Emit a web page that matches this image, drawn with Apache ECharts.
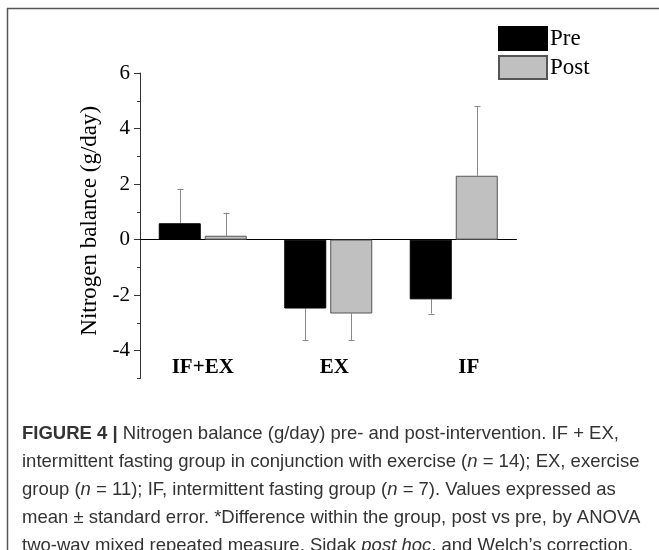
<!DOCTYPE html>
<html>
<head>
<meta charset="utf-8">
<script src="https://cdn.jsdelivr.net/npm/echarts@6/dist/echarts.min.js"></script>
<style>html,body{margin:0;padding:0;background:#fff;}#c{width:659px;height:550px;}</style>
</head>
<body>
<div id="c"></div>
<script>
// ---- data ----
const categories = ['IF+EX', 'EX', 'IF'];
const preValues = [0.59, -2.48, -2.15];
const postValues = [0.14, -2.66, 2.30];
const preErrors = [1.24, 1.13, 0.51];
const postErrors = [0.83, 0.97, 2.50];
const majorTickValues = [-4, -2, 0, 2, 4, 6];
const minorTickValues = [-5, -3, -1, 1, 3, 5];
const yMin = -5, yMax = 6;
const captionLines = [
  '{b|FIGURE 4 |} Nitrogen balance (g/day) pre- and post-intervention. IF + EX,',
  'intermittent fasting group in conjunction with exercise ({i|n} = 14); EX, exercise',
  'group ({i|n} = 11); IF, intermittent fasting group ({i|n} = 7). Values expressed as',
  'mean \u00b1 standard error. *Difference within the group, post vs pre, by ANOVA',
  'two-way mixed repeated measure, Sidak {i|post hoc}, and Welch\u2019s correction.'
];

// ---- style ----
const BAR_W = 42, BAR_GAP = 4;
const serif = 'Liberation Serif';
const labelShift = { 'IF': 15, 'EX': 6 };
const CAP_FS = 18.5;

const errData = [];
categories.forEach((c, i) => {
  errData.push([i, preValues[i], preErrors[i], -1]);
  errData.push([i, postValues[i], postErrors[i], 1]);
});

const chart = echarts.init(document.getElementById('c'), null, { renderer: 'canvas' });

const captionGraphics = captionLines.map((t, k) => ({
  type: 'text',
  left: 22,
  top: 424 + k * 28.2,
  style: {
    text: t,
    fill: '#333',
    font: CAP_FS + 'px "Liberation Sans"',
    rich: {
      b: { fontWeight: 'bold', fontSize: CAP_FS, fontFamily: 'Liberation Sans', fill: '#333' },
      i: { fontStyle: 'italic', fontSize: CAP_FS, fontFamily: 'Liberation Sans', fill: '#333' }
    }
  }
}));

const option = {
  animation: false,
  backgroundColor: '#fff',
  grid: { left: 140, top: 73, width: 376.5, height: 305.5, containLabel: false },
  legend: {
    orient: 'vertical',
    left: 493, top: 21,
    itemWidth: 48, itemHeight: 23, itemGap: 4,
    icon: 'rect',
    data: ['Pre', 'Post'],
    textStyle: { fontFamily: serif, fontSize: 23, color: '#000', padding: [0, 0, 0, -2] }
  },
  xAxis: [
    {
      type: 'category', data: categories,
      axisLine: { onZero: true, lineStyle: { color: '#000', width: 1 } },
      axisTick: { show: false }, axisLabel: { show: false }, splitLine: { show: false }
    },
    {
      type: 'category', data: categories, position: 'bottom',
      axisLine: { show: false, onZero: false }, axisTick: { show: false },
      axisLabel: {
        margin: -21,
        fontFamily: serif, fontSize: 21, fontWeight: 'bold', color: '#000',
        formatter: v => labelShift[v] ? '{s' + labelShift[v] + '|' + v + '}' : v,
        rich: {
          s6: { padding: [0, 0, 0, 12], fontFamily: serif, fontSize: 21, fontWeight: 'bold', color: '#000' },
          s15: { padding: [0, 0, 0, 30], fontFamily: serif, fontSize: 21, fontWeight: 'bold', color: '#000' }
        }
      }
    }
  ],
  yAxis: [
    {
      type: 'value', min: yMin, max: yMax,
      name: 'Nitrogen balance (g/day)', nameLocation: 'middle', nameGap: 36,
      nameTextStyle: { fontFamily: serif, fontSize: 23, color: '#000', padding: [0, 0, 0, 10] },
      axisLine: { show: true, lineStyle: { color: '#333', width: 1 } },
      axisTick: { show: true, customValues: majorTickValues, length: 6, lineStyle: { color: '#333' } },
      axisLabel: { customValues: majorTickValues, margin: 10, fontFamily: serif, fontSize: 21, color: '#000', formatter: v => String(v) },
      splitLine: { show: false }
    },
    {
      type: 'value', min: yMin, max: yMax, position: 'left', offset: 0,
      axisLine: { show: false },
      axisTick: { show: true, customValues: minorTickValues, length: 3, lineStyle: { color: '#333' } },
      axisLabel: { show: false },
      splitLine: { show: false }
    }
  ],
  series: [
    {
      name: 'Pre', type: 'bar', data: preValues, barWidth: BAR_W, barGap: (BAR_GAP / BAR_W * 100) + '%',
      itemStyle: { color: '#000', borderColor: '#000', borderWidth: 1 }
    },
    {
      name: 'Post', type: 'bar', data: postValues, barWidth: BAR_W,
      itemStyle: { color: '#c0c0c0', borderColor: '#555', borderWidth: 1 }
    },
    {
      type: 'custom', data: errData, z: 1,
      renderItem: (params, api) => {
        const idx = api.value(0), val = api.value(1), err = api.value(2), side = api.value(3);
        const end = val >= 0 ? val + err : val - err;
        const p0 = api.coord([idx, val]);
        const p1 = api.coord([idx, end]);
        const dx = side * (BAR_W + BAR_GAP) / 2;
        const x = Math.round(p0[0] + dx) + 0.5;
        const style = { stroke: '#8a8a8a', lineWidth: 1 };
        return {
          type: 'group',
          children: [
            { type: 'line', shape: { x1: x, y1: p0[1], x2: x, y2: p1[1] }, style },
            { type: 'line', shape: { x1: x - 3, y1: Math.round(p1[1]) + 0.5, x2: x + 3, y2: Math.round(p1[1]) + 0.5 }, style }
          ]
        };
      }
    }
  ],
  graphic: [
    { type: 'line', shape: { x1: 7, y1: 8.5, x2: 659, y2: 8.5 }, style: { stroke: '#555', lineWidth: 1.5 } },
    { type: 'line', shape: { x1: 7.5, y1: 8, x2: 7.5, y2: 550 }, style: { stroke: '#555', lineWidth: 1.5 } }
  ].concat(captionGraphics)
};
chart.setOption(option);
</script>
</body>
</html>
